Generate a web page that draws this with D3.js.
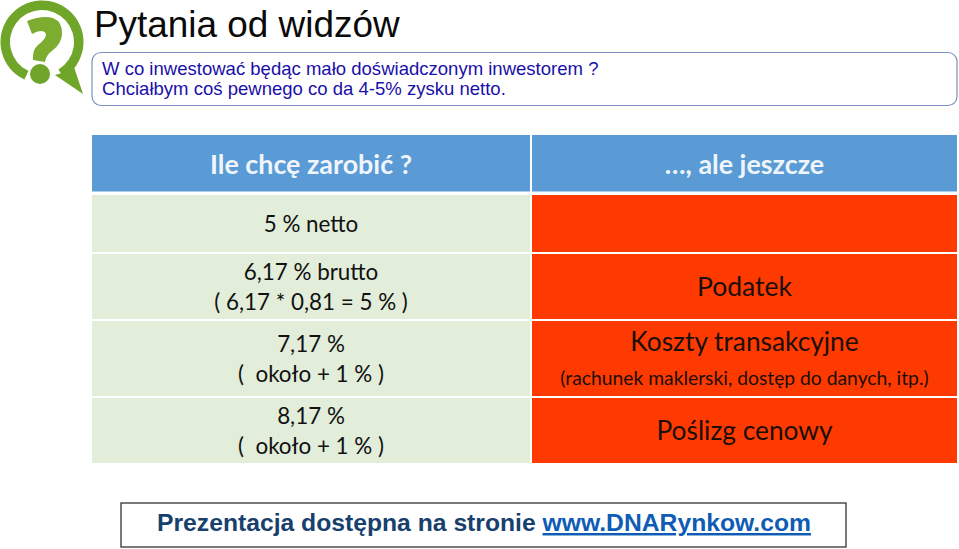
<!DOCTYPE html>
<html>
<head>
<meta charset="utf-8">
<script src="https://d3js.org/d3.v7.min.js"></script>
<style>
html, body { margin: 0; padding: 0; background: #fff; }
svg { display: block; }
text { white-space: pre; }
</style>
</head>
<body>
<svg id="chart" width="959" height="549"></svg>
<script>
var titleText = "Pytania od widzów";
var questionLines = ["W co inwestować będąc mało doświadczonym inwestorem ?", "Chciałbym coś pewnego co da 4-5% zysku netto."];
var columns = ["Ile chcę zarobić ?", "…, ale jeszcze"];
var rowNames = ["r1", "r2", "r3", "r4"];
var leftCells = [
    ["5 % netto"],
    ["6,17 % brutto", "( 6,17 * 0,81 = 5 % )"],
    ["7,17 %", "(  około + 1 % )"],
    ["8,17 %", "(  około + 1 % )"]
];
var rightCells = [
    [],
    ["Podatek"],
    ["Koszty transakcyjne", "(rachunek maklerski, dostęp do danych, itp.)"],
    ["Poślizg cenowy"]
];
var footerText = "Prezentacja dostępna na stronie ";
var footerLink = "www.DNARynkow.com";

var svg = d3.select("#chart");
var tableFont = "Lato, 'Open Sans', sans-serif";
var headFont = "'Liberation Sans', Arial, sans-serif";

// logo
var logo = svg.append("g");
logo.append("path").attr("transform", "translate(42,42)")
    .attr("d", d3.arc().innerRadius(32).outerRadius(41.5).startAngle(3.58).endAngle(2 * Math.PI + 2.6)())
    .attr("fill", "#6fa528");
logo.append("path").attr("d", "M55,75 L83,94 L73,64 L62,73 Z").attr("fill", "#6fa528");
logo.append("path")
    .attr("d", "M27,21 Q42,15 53,18 Q63,22 62,35 Q61,44 53,50 Q46,55 45,62 L33,60 Q32,50 38,45 Q46,39 46,34 Q43,28 32,34 Z")
    .attr("fill", "#7dad30");
logo.append("circle").attr("cx", 40).attr("cy", 74).attr("r", 10).attr("fill", "#6fa528");

// title
svg.append("text").attr("x", 94).attr("y", 37).text(titleText)
    .attr("font-family", headFont).attr("font-size", 36.9).attr("fill", "#0a0a0a");

// question box
svg.append("rect").attr("x", 92).attr("y", 52.5).attr("width", 865).attr("height", 53).attr("rx", 9)
    .attr("fill", "#fff").attr("stroke", "#7a90c0").attr("stroke-width", 1.2);
svg.selectAll("text.q").data(questionLines).enter().append("text")
    .attr("class", "q").attr("x", 102).attr("y", function(d, i) { return 75 + i * 20; })
    .attr("font-family", headFont).attr("font-size", 18.55).attr("fill", "#1a0fa8")
    .text(function(d) { return d; });

// table
var x = d3.scaleOrdinal().domain([0, 1]).range([92, 532]);
var widths = d3.scaleOrdinal().domain([0, 1]).range([438, 425]);
var rowTop = d3.scaleOrdinal().domain(rowNames).range([195, 254, 321, 398]);
var rowHeight = d3.scaleOrdinal().domain(rowNames).range([57, 65, 75, 65]);

svg.selectAll("rect.head").data(columns).enter().append("rect")
    .attr("class", "head").attr("x", function(d, i) { return x(i); }).attr("y", 135)
    .attr("width", function(d, i) { return widths(i); }).attr("height", 56.5)
    .attr("fill", "#5b9bd5");
svg.selectAll("text.head").data(columns).enter().append("text")
    .attr("class", "head")
    .attr("x", function(d, i) { return x(i) + widths(i) / 2; }).attr("y", 174)
    .attr("text-anchor", "middle").attr("font-family", tableFont).attr("font-size", 26.9).attr("font-weight", 700)
    .attr("fill", "#fff").attr("fill-opacity", 0.93).text(function(d) { return d; });

rowNames.forEach(function(name, i) {
    svg.append("rect").attr("x", x(0)).attr("y", rowTop(name)).attr("width", widths(0)).attr("height", rowHeight(name)).attr("fill", "#e2edda");
    svg.append("rect").attr("x", x(1)).attr("y", rowTop(name)).attr("width", widths(1)).attr("height", rowHeight(name)).attr("fill", "#fe3a00");
});

var leftBase = [[232], [280, 310], [352, 382], [424, 454]];
var rightBase = [[], [296], [351, 385], [440]];
var rightSize = [[], [26.5], [26.3, 19.3], [26.3]];

leftCells.forEach(function(lines, i) {
    lines.forEach(function(line, j) {
        svg.append("text").attr("x", x(0) + widths(0) / 2).attr("y", leftBase[i][j])
            .attr("text-anchor", "middle").attr("font-family", tableFont).attr("font-size", 22.4)
            .attr("fill", "#111").text(line);
    });
});
rightCells.forEach(function(lines, i) {
    lines.forEach(function(line, j) {
        svg.append("text").attr("x", x(1) + widths(1) / 2).attr("y", rightBase[i][j])
            .attr("text-anchor", "middle").attr("font-family", tableFont).attr("font-size", rightSize[i][j])
            .attr("fill", "#1a0f0a").text(line);
    });
});

// footer
svg.append("rect").attr("x", 121).attr("y", 503).attr("width", 725).attr("height", 44)
    .attr("fill", "#fff").attr("stroke", "#333").attr("stroke-width", 1.3);
var foot = svg.append("text").attr("x", 484).attr("y", 531).attr("text-anchor", "middle")
    .attr("font-family", headFont).attr("font-size", 24.7).attr("font-weight", 700);
foot.append("tspan").attr("fill", "#17406d").text(footerText);
foot.append("tspan").attr("fill", "#0f5cb5").attr("text-decoration", "underline").text(footerLink);
</script>
</body>
</html>
